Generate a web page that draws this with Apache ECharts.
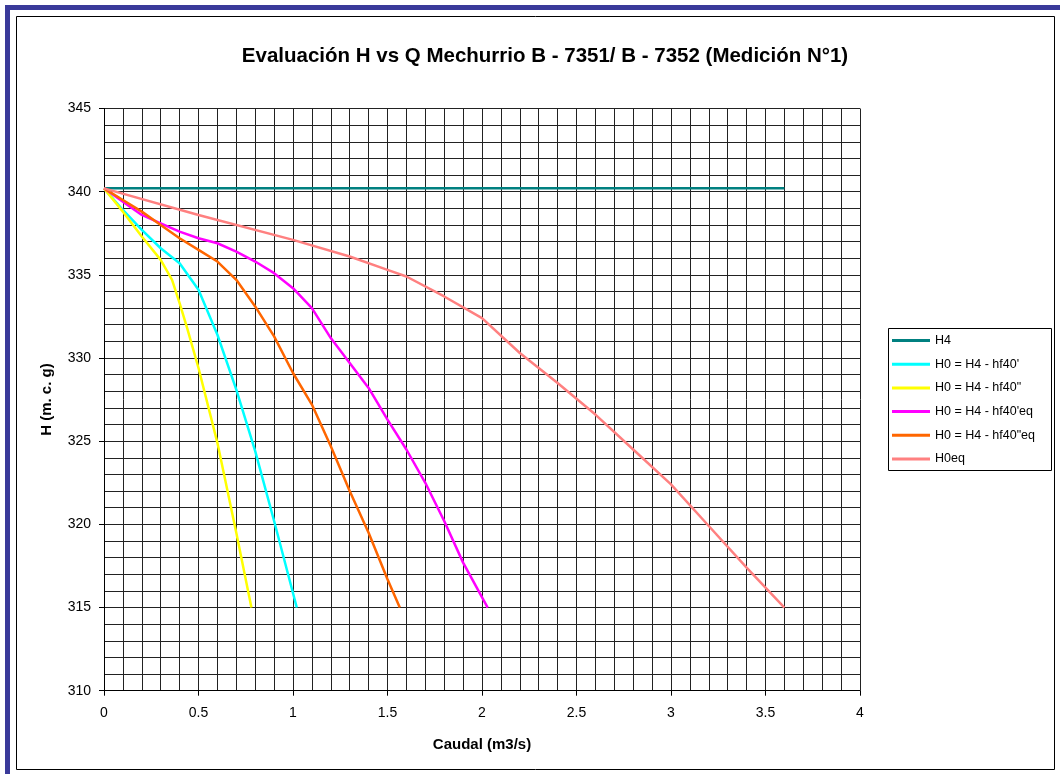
<html>
<head>
    <meta charset="utf-8">
    <script src='https://cdn.jsdelivr.net/npm/echarts@6/dist/echarts.min.js'></script>
    <style>
        html, body, #main {
            width: 100%;
            height: 100%;
            margin: 0;
            background: #fff;
        }
    </style>
</head>
<body>
<div id='main'></div>
<script>
    // Caudal (m3/s) y H (m.c.g)
    var qH4 = [0, 3.6];
    var hH4 = [340.2, 340.2];

    var qHf40a = [0, 0.1, 0.2, 0.3, 0.4, 0.5, 0.6, 0.7, 0.8, 0.9, 1.02];
    var hHf40a = [340.2, 338.9, 337.7, 336.6, 335.7, 334.1, 331.4, 328.1, 324.4, 320.2, 315];

    var qHf40b = [0, 0.1, 0.2, 0.3, 0.36, 0.4, 0.44, 0.5, 0.6, 0.7, 0.78];
    var hHf40b = [340.2, 338.8, 337.3, 335.9, 334.7, 333.3, 331.8, 329.4, 324.9, 319.5, 315];

    var qHf40aEq = [0, 0.1, 0.2, 0.3, 0.4, 0.5, 0.6, 0.7, 0.8, 0.9, 1.0, 1.1, 1.2, 1.3, 1.4, 1.5, 1.6, 1.7, 1.8, 1.9, 2.03];
    var hHf40aEq = [340.2, 339.4, 338.6, 338.1, 337.6, 337.2, 336.9, 336.4, 335.8, 335.1, 334.2, 333.0, 331.2, 329.7, 328.2, 326.3, 324.5, 322.5, 320.2, 317.7, 315];

    var qHf40bEq = [0, 0.1, 0.2, 0.3, 0.4, 0.5, 0.6, 0.7, 0.8, 0.9, 1.0, 1.1, 1.2, 1.3, 1.4, 1.5, 1.565];
    var hHf40bEq = [340.2, 339.5, 338.8, 338.0, 337.2, 336.5, 335.8, 334.7, 333.1, 331.3, 329.1, 327.2, 324.7, 322.0, 319.5, 316.7, 315];

    var qH0eq = [0, 0.5, 1.0, 1.3, 1.5, 1.6, 1.8, 2.0, 2.2, 2.4, 2.6, 2.8, 3.0, 3.2, 3.4, 3.6];
    var hH0eq = [340.2, 338.6, 337.1, 336.1, 335.3, 334.9, 333.7, 332.4, 330.3, 328.5, 326.6, 324.5, 322.4, 319.9, 317.4, 315];

    var seriesNames = ['H4', "H0 = H4 - hf40'", 'H0 = H4 - hf40"', "H0 = H4 - hf40'eq", 'H0 = H4 - hf40"eq', 'H0eq'];
    var seriesColors = ['#008080', '#00ffff', '#ffff00', '#ff00ff', '#ff6600', '#ff8080'];
    var seriesQ = [qH4, qHf40a, qHf40b, qHf40aEq, qHf40bEq, qH0eq];
    var seriesH = [hH4, hHf40a, hHf40b, hHf40aEq, hHf40bEq, hH0eq];

    function pairs(q, h) {
        var out = [];
        for (var i = 0; i < q.length; i++) out.push([q[i], h[i]]);
        return out;
    }

    var series = [];
    for (var k = 0; k < seriesNames.length; k++) {
        series.push({
            name: seriesNames[k],
            type: 'line',
            symbol: 'none',
            smooth: false,
            color: seriesColors[k],
            lineStyle: {width: 2.5, color: seriesColors[k]},
            data: pairs(seriesQ[k], seriesH[k])
        });
    }

    var gridColor = '#222';
    var font = 'Liberation Sans, Arial, sans-serif';

    var chart = echarts.init(document.getElementById('main'));
    var option = {
        animation: false,
        title: {
            text: 'Evaluación H vs Q Mechurrio B - 7351/ B - 7352 (Medición N°1)',
            left: 540,
            textAlign: 'center',
            top: 41,
            textStyle: {fontFamily: font, fontSize: 20.5, fontWeight: 'bold', color: '#000'}
        },
        graphic: [
            {type: 'rect', shape: {x: 7.5, y: 7.5, width: 1070, height: 790}, style: {fill: 'none', stroke: '#3a3a9a', lineWidth: 5}},
            {type: 'rect', shape: {x: 16.5, y: 16.5, width: 1038, height: 753}, style: {fill: 'none', stroke: '#000', lineWidth: 1}},
            {type: 'rect', shape: {x: 888.5, y: 328.5, width: 163, height: 142}, style: {fill: 'none', stroke: '#000', lineWidth: 1}}
        ],
        legend: {
            orient: 'vertical',
            left: 892,
            top: 334,
            padding: 0,
            icon: 'rect',
            itemWidth: 38,
            itemHeight: 3,
            itemGap: 10.7,
            textStyle: {fontFamily: font, fontSize: 12.5, lineHeight: 13, color: '#000'},
            data: seriesNames
        },
        grid: {left: 104, right: 200, top: 108.5, bottom: 83.3},
        xAxis: {
            type: 'value',
            min: 0, max: 4, interval: 0.5,
            name: 'Caudal (m3/s)',
            nameLocation: 'middle',
            nameGap: 47,
            nameTextStyle: {fontFamily: font, fontSize: 15, fontWeight: 'bold', color: '#000'},
            axisLine: {show: true, onZero: false, lineStyle: {color: '#000', width: 1}},
            axisTick: {show: true, inside: false, length: 5, lineStyle: {color: '#000'}},
            axisLabel: {fontFamily: font, fontSize: 14, color: '#000', margin: 15},
            splitLine: {show: true, lineStyle: {color: gridColor, width: 1}},
            minorTick: {show: false, splitNumber: 5},
            minorSplitLine: {show: true, lineStyle: {color: gridColor, width: 1}}
        },
        yAxis: {
            type: 'value',
            min: 310, max: 345, interval: 5,
            name: 'H (m. c. g)',
            nameLocation: 'middle',
            nameGap: 50,
            nameTextStyle: {fontFamily: font, fontSize: 15, fontWeight: 'bold', color: '#000'},
            axisLine: {show: true, lineStyle: {color: '#000', width: 1}},
            axisTick: {show: true, inside: false, length: 5, lineStyle: {color: '#000'}},
            axisLabel: {fontFamily: font, fontSize: 14, color: '#000', margin: 13},
            splitLine: {show: true, lineStyle: {color: gridColor, width: 1}},
            minorTick: {show: false, splitNumber: 5},
            minorSplitLine: {show: true, lineStyle: {color: gridColor, width: 1}}
        },
        series: series
    };
    chart.setOption(option);
</script>
</body>
</html>
